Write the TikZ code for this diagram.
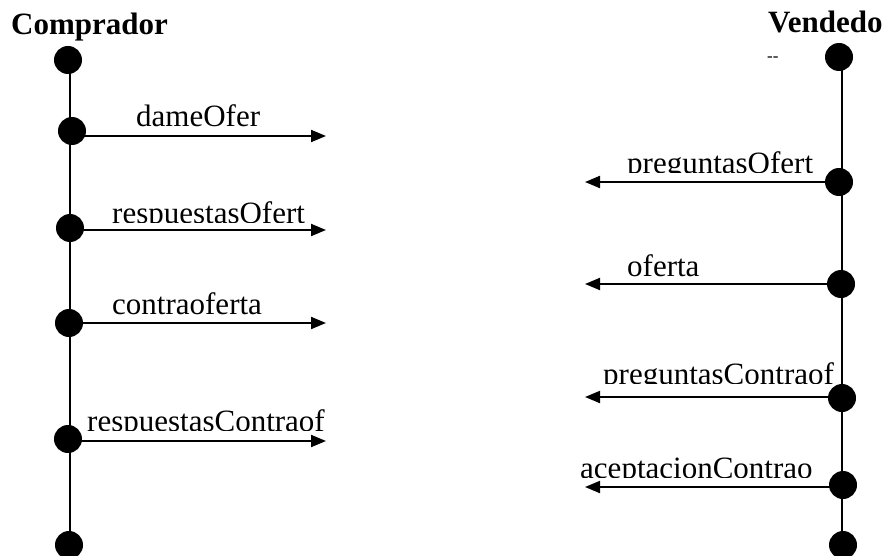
\documentclass[tikz,border=0pt]{standalone}
\usepackage{fontspec}
\setmainfont{Liberation Serif}
\usetikzlibrary{arrows.meta}
\begin{document}
\begin{tikzpicture}[x=1pt,y=-1pt,
  dot/.style={circle,fill=black,inner sep=0pt,minimum size=28pt},
  life/.style={line width=2pt},
  msg/.style={line width=2pt,-{Triangle[length=15pt,width=12pt]}},
  lbl/.style={anchor=base west,inner sep=0pt,font=\fontsize{31}{31}\selectfont},
  actor/.style={anchor=base west,inner sep=0pt,font=\fontsize{31}{31}\selectfont\bfseries}]
\useasboundingbox (0,0) rectangle (885,556);

% actor titles
\node[actor] (tc) at (11,35) {Comprador};
\node[actor] (tv) at (768,33) {Vendedo};
\node[anchor=base west,inner sep=0pt,font=\fontsize{17}{17}\selectfont] (tvx) at (767,62) {-{}-};

% lifelines
\coordinate (lt) at (70,60);
\coordinate (lb) at (70,543);
\coordinate (rt) at (842,57);
\coordinate (rb) at (842,543);
\draw[life] (lt) -- (lb);
\draw[life] (rt) -- (rb);

% Comprador events
\node[dot] (c0) at (68,60) {};
\node[dot] (c1) at (72,131) {};
\node[dot] (c2) at (70,228) {};
\node[dot] (c3) at (69,323) {};
\node[dot] (c4) at (68,439) {};
\node[dot] (c5) at (69,545) {};

% Vendedor events
\node[dot] (v0) at (839,57) {};
\node[dot] (v1) at (839,182) {};
\node[dot] (v2) at (841,284) {};
\node[dot] (v3) at (842,398) {};
\node[dot] (v4) at (843,485) {};
\node[dot] (v5) at (843,545) {};

% message ends
\coordinate (e1) at (326,136);
\coordinate (e2) at (326,230);
\coordinate (e3) at (326,323);
\coordinate (e4) at (326,441);
\coordinate (f1) at (585,182);
\coordinate (f2) at (585,284);
\coordinate (f3) at (585,397);
\coordinate (f4) at (585,487);

\draw[msg] (c1.center |- e1) -- (e1);
\draw[msg] (c2.center |- e2) -- (e2);
\draw[msg] (c3.center |- e3) -- (e3);
\draw[msg] (c4.center |- e4) -- (e4);
\draw[msg] (v1.center |- f1) -- (f1);
\draw[msg] (v2.center |- f2) -- (f2);
\draw[msg] (v3.center |- f3) -- (f3);
\draw[msg] (v4.center |- f4) -- (f4);

% message labels (text boxes cut off at the bottom)
\node[lbl] (m1) at (136,127) {dameOfer};
\begin{scope}
  \clip (0,0) rectangle (885,222);
  \node[lbl] (m2) at (112,223) {respuestasOfert};
\end{scope}
\node[lbl] (m3) at (112,314) {contraoferta};
\begin{scope}
  \clip (0,0) rectangle (885,430);
  \node[lbl] (m4) at (87,431) {respuestasContraof};
\end{scope}
\begin{scope}
  \clip (0,0) rectangle (885,173);
  \node[lbl] (n1) at (627,174) {preguntasOfert};
\end{scope}
\node[lbl] (n2) at (627,276) {oferta};
\begin{scope}
  \clip (0,0) rectangle (885,383);
  \node[lbl] (n3) at (603,384) {preguntasContraof};
\end{scope}
\begin{scope}
  \clip (0,0) rectangle (885,477);
  \node[lbl] (n4) at (580,478) {aceptacionContrao};
\end{scope}
\end{tikzpicture}
\end{document}
